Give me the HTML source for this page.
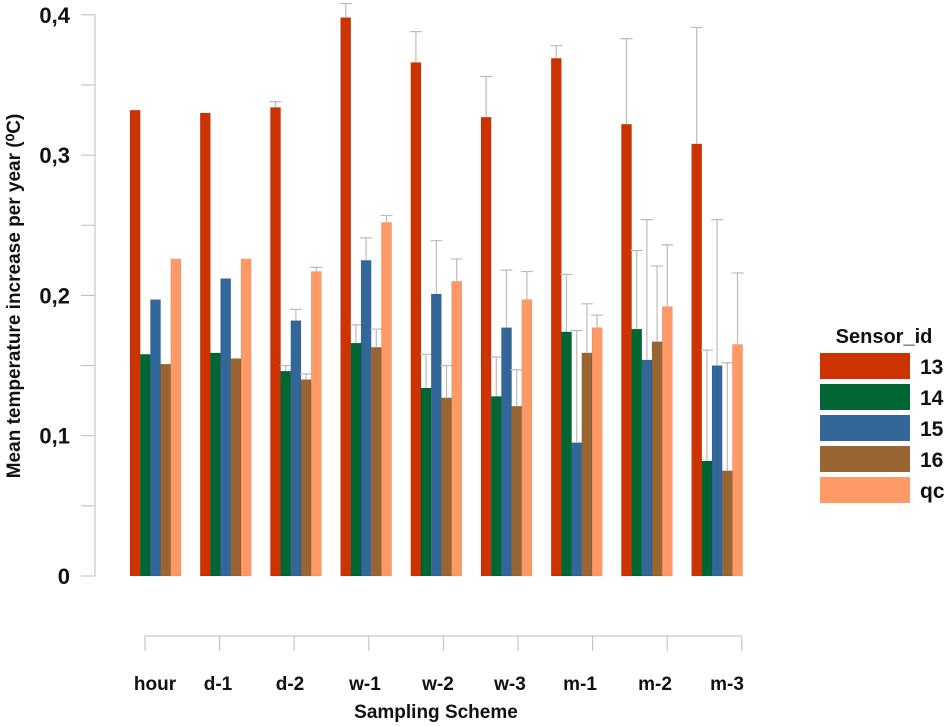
<!DOCTYPE html>
<html><head><meta charset="utf-8"><style>
body{margin:0;background:#fff;}
svg{display:block;font-family:"Liberation Sans",Arial,sans-serif;}
</style></head><body>
<svg id="chart" width="950" height="726" viewBox="0 0 950 726"></svg>
<script>
const categories=["hour","d-1","d-2","w-1","w-2","w-3","m-1","m-2","m-3"];
const seriesNames=["13","14","15","16","qc"];
const s13=[0.332,0.330,0.334,0.398,0.366,0.327,0.369,0.322,0.308];
const s14=[0.158,0.159,0.146,0.166,0.134,0.128,0.174,0.176,0.082];
const s15=[0.197,0.212,0.182,0.225,0.201,0.177,0.095,0.154,0.150];
const s16=[0.151,0.155,0.140,0.163,0.127,0.121,0.159,0.167,0.075];
const sqc=[0.226,0.226,0.217,0.252,0.210,0.197,0.177,0.192,0.165];
const e13=[null,null,0.338,0.408,0.388,0.356,0.378,0.383,0.391];
const e14=[null,null,0.150,0.179,0.158,0.156,0.215,0.232,0.161];
const e15=[null,null,0.190,0.241,0.239,0.218,0.175,0.254,0.254];
const e16=[null,null,0.144,0.176,0.150,0.147,0.194,0.221,0.152];
const eqc=[null,null,0.220,0.257,0.226,0.217,0.186,0.236,0.216];
const yTicks=[0,0.1,0.2,0.3,0.4];
const yTickLabels=["0","0,1","0,2","0,3","0,4"];
const colors=["#cc3300","#006633","#336699","#996633","#ff9966"];

const series=[s13,s14,s15,s16,sqc];
const errs=[e13,e14,e15,e16,eqc];
const NS="http://www.w3.org/2000/svg";
const svg=document.getElementById('chart');
function y(v){return 576-v*1403;}
function gx(i){return 130+i*70.2;}
const BW=10.2;
function mk(tag,attrs,parent){const e=document.createElementNS(NS,tag);for(const k in attrs)e.setAttribute(k,attrs[k]);(parent||svg).appendChild(e);return e;}

// y axis
const ya=mk('g',{});


mk('line',{x1:95,y1:y(0.4),x2:95,y2:y(0),stroke:'#bbb','stroke-width':1},ya);
for(let v=0;v<=0.4001;v+=0.05){mk('line',{x1:81,y1:y(v),x2:95,y2:y(v),stroke:'#bbb'},ya);}
yTicks.forEach((v,i)=>{const t=mk('text',{x:70,y:y(v)+8,'text-anchor':'end','font-size':22,'font-weight':'bold',fill:'#111'},ya);t.textContent=yTickLabels[i];

});
const yt=mk('text',{x:0,y:0,transform:'translate(20,296) rotate(-90)','text-anchor':'middle','font-size':19,'font-weight':'bold',fill:'#111'});
yt.textContent="Mean temperature increase per year (\u2070C)";



// bars
categories.forEach((c,i)=>{
  const g=mk('g',{});
  
  
  series.forEach((s,k)=>{
    const x=gx(i)+k*BW;
    const r=mk('rect',{x:x,y:y(s[i]),width:BW,height:y(0)-y(s[i]),fill:colors[k],stroke:'rgba(0,0,0,0.15)','stroke-width':0.5},g);
    
    
    const e=errs[k][i];
    if(e!==null){
      const cx=x+BW/2;
      const l=mk('path',{d:`M${cx},${y(s[i])}V${y(e)}M${cx-6},${y(e)}H${cx+6}`,stroke:'#bbb','stroke-width':1.2,fill:'none'},g);
      
      
    }
  });
});

// x axis
const xa=mk('g',{});


mk('line',{x1:145,y1:636,x2:742,y2:636,stroke:'#bbb'},xa);
categories.forEach((c,i)=>{const tx=145+i*74.6;mk('line',{x1:tx,y1:636,x2:tx,y2:651,stroke:'#bbb'},xa);});
const lblX=[155,218,290,365,438,510,580,655,727];
categories.forEach((c,i)=>{const t=mk('text',{x:lblX[i],y:690,'text-anchor':'middle','font-size':19,'font-weight':'bold',fill:'#111'},xa);t.textContent=c;

});
const xt=mk('text',{x:436,y:718,'text-anchor':'middle','font-size':19,'font-weight':'bold',fill:'#111'});
xt.textContent="Sampling Scheme";



// legend
const lg=mk('g',{});


const lt=mk('text',{x:884,y:343,'text-anchor':'middle','font-size':20,'font-weight':'bold',fill:'#111'},lg);
lt.textContent="Sensor_id";


seriesNames.forEach((n,k)=>{
  const yy=353+k*31;
  const e=mk('g',{},lg);
  
  
  mk('rect',{x:820,y:yy,width:90,height:26,fill:colors[k]},e);
  const t=mk('text',{x:920,y:yy+21,'font-size':21,'font-weight':'bold',fill:'#111'},e);
  t.textContent=n;
});
</script>
</body></html>
